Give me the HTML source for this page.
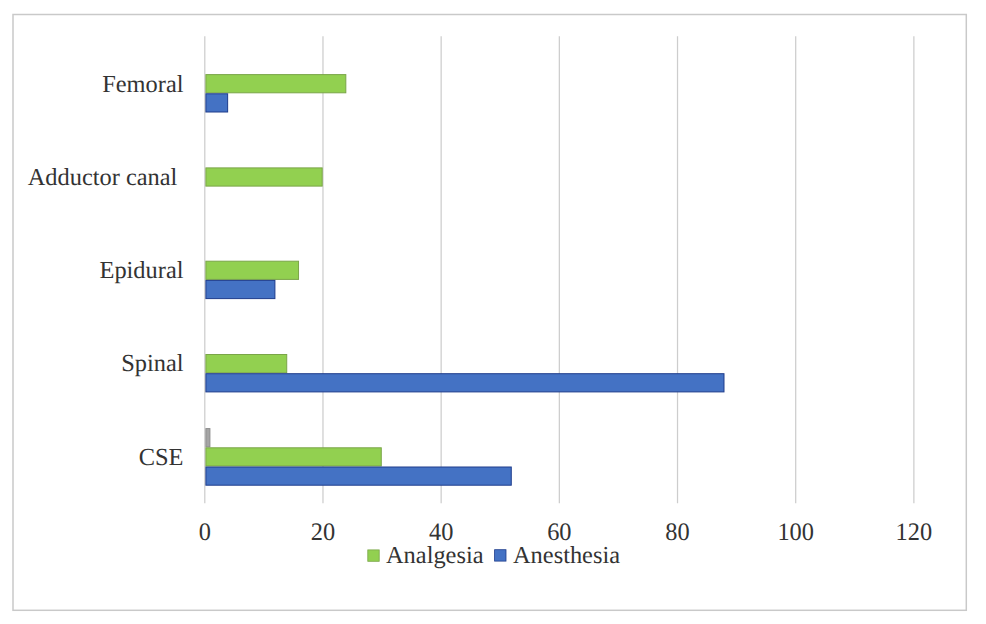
<!DOCTYPE html>
<html><head><meta charset="utf-8"><title>Chart</title>
<style>
html,body{margin:0;padding:0;background:#fff;}
body{width:986px;height:624px;overflow:hidden;}
svg{display:block;}
text{font-family:"Liberation Serif","Times New Roman",serif;text-rendering:geometricPrecision;}
</style></head><body>
<svg width="986" height="624" viewBox="0 0 986 624">
<rect x="0" y="0" width="986" height="624" fill="#fff"/>
<rect x="13" y="14.5" width="953.3" height="595.8" fill="#fff" stroke="#c9c9c9" stroke-width="1.5"/>
<line x1="204.8" y1="36.3" x2="204.8" y2="503.3" stroke="#cdcdcd" stroke-width="1.25"/>
<line x1="322.98" y1="36.3" x2="322.98" y2="503.3" stroke="#cdcdcd" stroke-width="1.25"/>
<line x1="441.16" y1="36.3" x2="441.16" y2="503.3" stroke="#cdcdcd" stroke-width="1.25"/>
<line x1="559.34" y1="36.3" x2="559.34" y2="503.3" stroke="#cdcdcd" stroke-width="1.25"/>
<line x1="677.52" y1="36.3" x2="677.52" y2="503.3" stroke="#cdcdcd" stroke-width="1.25"/>
<line x1="795.7" y1="36.3" x2="795.7" y2="503.3" stroke="#cdcdcd" stroke-width="1.25"/>
<line x1="913.88" y1="36.3" x2="913.88" y2="503.3" stroke="#cdcdcd" stroke-width="1.25"/>
<rect x="205.9" y="74.6" width="139.92" height="18.2" fill="#92d050" stroke="#7aa548" stroke-width="1"/>
<rect x="205.9" y="93.8" width="21.74" height="18.2" fill="#4472c4" stroke="#1e3c8c" stroke-width="1"/>
<rect x="205.9" y="167.9" width="116.28" height="18.2" fill="#92d050" stroke="#7aa548" stroke-width="1"/>
<rect x="205.9" y="261.2" width="92.64" height="18.2" fill="#92d050" stroke="#7aa548" stroke-width="1"/>
<rect x="205.9" y="280.4" width="69.01" height="18.2" fill="#4472c4" stroke="#1e3c8c" stroke-width="1"/>
<rect x="205.9" y="354.5" width="80.83" height="18.2" fill="#92d050" stroke="#7aa548" stroke-width="1"/>
<rect x="205.9" y="373.7" width="518.09" height="18.2" fill="#4472c4" stroke="#1e3c8c" stroke-width="1"/>
<rect x="205.9" y="428.6" width="4.01" height="18.2" fill="#a5a5a5" stroke="#8c8c8c" stroke-width="1"/>
<rect x="205.9" y="447.8" width="175.37" height="18.2" fill="#92d050" stroke="#7aa548" stroke-width="1"/>
<rect x="205.9" y="467" width="305.37" height="18.2" fill="#4472c4" stroke="#1e3c8c" stroke-width="1"/>
<text x="183.5" y="91.55" font-size="24.4" fill="#333333" text-anchor="end" xml:space="preserve">Femoral</text>
<text x="183.5" y="184.85" font-size="24.4" fill="#333333" text-anchor="end" xml:space="preserve">Adductor canal </text>
<text x="183.5" y="278.15" font-size="24.4" fill="#333333" text-anchor="end" xml:space="preserve">Epidural</text>
<text x="183.5" y="371.45" font-size="24.4" fill="#333333" text-anchor="end" xml:space="preserve">Spinal</text>
<text x="183.5" y="464.75" font-size="24.4" fill="#333333" text-anchor="end" xml:space="preserve">CSE</text>
<text transform="translate(204.8 540.4) scale(1 1.03)" font-size="24.4" fill="#333333" text-anchor="middle">0</text>
<text transform="translate(322.98 540.4) scale(1 1.03)" font-size="24.4" fill="#333333" text-anchor="middle">20</text>
<text transform="translate(441.16 540.4) scale(1 1.03)" font-size="24.4" fill="#333333" text-anchor="middle">40</text>
<text transform="translate(559.34 540.4) scale(1 1.03)" font-size="24.4" fill="#333333" text-anchor="middle">60</text>
<text transform="translate(677.52 540.4) scale(1 1.03)" font-size="24.4" fill="#333333" text-anchor="middle">80</text>
<text transform="translate(795.7 540.4) scale(1 1.03)" font-size="24.4" fill="#333333" text-anchor="middle">100</text>
<text transform="translate(913.88 540.4) scale(1 1.03)" font-size="24.4" fill="#333333" text-anchor="middle">120</text>
<rect x="367.8" y="549.9" width="11.4" height="11.4" fill="#92d050" stroke="#7aa548" stroke-width="0.8"/>
<text x="386" y="563" font-size="24.4" fill="#333333">Analgesia</text>
<rect x="494.6" y="549.7" width="11.4" height="11.4" fill="#4472c4" stroke="#1e3c8c" stroke-width="0.8"/>
<text x="513" y="563" font-size="24.4" fill="#333333">Anesthesia</text>
</svg>
</body></html>
